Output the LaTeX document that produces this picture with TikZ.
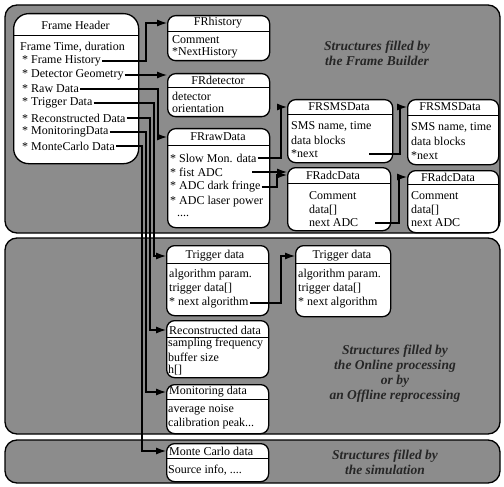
\documentclass[tikz,border=0pt]{standalone}
\usepackage{fontspec}
\setmainfont{Liberation Serif}
\usetikzlibrary{arrows.meta}

\begin{document}
\begin{tikzpicture}[x=1pt,y=-1pt,
  band/.style={draw=black, line width=1.3pt, fill=black!45, rounded corners=12pt},
  box/.style={draw=black, line width=1.3pt, fill=white, rounded corners=8pt, anchor=north west},
  hbox/.style={box, rounded corners=15pt},
  sep/.style={line width=1pt},
  item/.style={anchor=west, inner sep=1pt},
  arr/.style={-{Latex[length=10pt,width=7pt]}, line width=1.1pt},
  note/.style={align=center, text=black!85, font=\fontsize{13.5}{15}\selectfont\bfseries\itshape}]
\tikzstyle{every node}+=[inner sep=0pt, font=\fontsize{12}{14}\selectfont]
\useasboundingbox (0,0) rectangle (504,487);
% the three bands
\path[band] (5,5) rectangle (500,233);
\path[band] (5,238) rectangle (500,434);
\path[band] (5,440) rectangle (500,483);
\node[note] (fbNote) at (377,53) {Structures filled by\\the Frame Builder};
\node[note] (olNote) at (395,374) {Structures filled by\\the Online processing\\or by\\an Offline reprocessing};
\node[note] (smNote) at (385,462) {Structures filled by\\the simulation};
% frame header
\node[hbox, minimum width=125pt, minimum height=150pt] (hdr) at (13,13) {};
\node (hdrT) at (75.5,25) {Frame Header};
\draw[sep] (13,36) -- (138,36);
\node[item] (fhTime) at (19,47) {Frame Time, duration};
\node[item] (fhHist) at (21,61) {* Frame History};
\node[item] (fhDet) at (21,75) {* Detector Geometry};
\node[item] (fhRaw) at (21,89) {* Raw Data};
\node[item] (fhTrig) at (21,103) {* Trigger Data};
\node[item] (fhReco) at (21,118) {* Reconstructed Data};
\node[item] (fhMon) at (21,132) {* MonitoringData};
\node[item] (fhMC) at (21,146) {* MonteCarlo Data};
% FRhistory
\node[box, minimum width=102pt, minimum height=45pt] (hist) at (167,15) {};
\node (histT) at (218,23) {FRhistory};
\draw[sep] (167,32) -- (269,32);
\node[item] (histC) at (171,40) {Comment};
\node[item] (histN) at (171,53) {*NextHistory};
% FRdetector
\node[box, minimum width=102pt, minimum height=43pt] (det) at (167,73) {};
\node (detT) at (218,80) {FRdetector};
\draw[sep] (167,88) -- (269,88);
\node[item] (detD) at (171,96) {detector};
\node[item] (detO) at (171,109) {orientation};
% FRrawData
\node[box, minimum width=102pt, minimum height=99pt] (raw) at (167,128) {};
\node (rawT) at (218,137) {FRrawData};
\draw[sep] (167,145) -- (269,145);
\node[item] (slow) at (169,158) {* Slow Mon. data};
\node[item] (fist) at (169,172) {* fist ADC};
\node[item] (fringe) at (169,187) {* ADC dark fringe};
\node[item] (laser) at (169,202) {* ADC laser power};
\node[item] (rawMore) at (176,216) {....};
% FRSMSData
\node[box, minimum width=105pt, minimum height=63pt] (sms1) at (287,99) {};
\node (sms1T) at (339,107) {FRSMSData};
\draw[sep] (287,115) -- (392,115);
\node[item] (sms1A) at (290,126) {SMS name, time};
\node[item] (sms1B) at (290,140) {data blocks};
\node[item] (sms1N) at (290,154) {*next};
\node[box, minimum width=91pt, minimum height=65pt] (sms2) at (407,99) {};
\node (sms2T) at (450,107) {FRSMSData};
\draw[sep] (407,116) -- (498,116);
\node[item] (sms2A) at (410,127) {SMS name, time};
\node[item] (sms2B) at (410,141) {data blocks};
\node[item] (sms2N) at (410,156) {*next};
% FRadcData
\node[box, minimum width=103pt, minimum height=63pt] (adc1) at (287,167) {};
\node (adc1T) at (333,175) {FRadcData};
\draw[sep] (287,183) -- (390,183);
\node[item] (adc1C) at (308,196) {Comment};
\node[item] (adc1D) at (308,210) {data[]};
\node[item] (adc1N) at (308,223) {next ADC};
\node[box, minimum width=91pt, minimum height=62pt] (adc2) at (407,170) {};
\node (adc2T) at (448,177) {FRadcData};
\draw[sep] (407,184) -- (498,184);
\node[item] (adc2C) at (410,196) {Comment};
\node[item] (adc2D) at (410,210) {data[]};
\node[item] (adc2N) at (410,223) {next ADC};
% trigger
\node[box, minimum width=102pt, minimum height=70pt] (trg1) at (166,245) {};
\node (trg1T) at (215,256) {Trigger data};
\draw[sep] (166,263) -- (268,263);
\node[item] (trg1A) at (168,275) {algorithm param.};
\node[item] (trg1B) at (168,289) {trigger data[]};
\node[item] (trg1N) at (168,303) {* next algorithm};
\node[box, minimum width=95pt, minimum height=71pt] (trg2) at (295,245) {};
\node (trg2T) at (342,256) {Trigger data};
\draw[sep] (295,263) -- (390,263);
\node[item] (trg2A) at (297,275) {algorithm param.};
\node[item] (trg2B) at (297,289) {trigger data[]};
\node[item] (trg2N) at (297,303) {* next algorithm};
% reconstructed, monitoring, monte carlo
\node[box, minimum width=102pt, minimum height=57pt] (reco) at (166,320) {};
\node[item] (recoT) at (168,330) {Reconstructed data};
\draw[sep] (166,337) -- (268,337);
\node[item] (recoA) at (167,344) {sampling frequency};
\node[item] (recoB) at (167,357) {buffer size};
\node[item] (recoC) at (167,370) {h[]};
\node[box, minimum width=102pt, minimum height=49pt] (mon) at (166,384) {};
\node[item] (monT) at (168,392) {Monitoring data};
\draw[sep] (166,399) -- (268,399);
\node[item] (monA) at (167,410) {average noise};
\node[item] (monB) at (167,424) {calibration peak...};
\node[box, minimum width=102pt, minimum height=38pt] (mc) at (166,443) {};
\node[item] (mcT) at (168,451) {Monte Carlo data};
\draw[sep] (166,458) -- (268,458);
\node[item] (mcA) at (167,470) {Source info, ....};
% links from the frame header
\draw[arr] (fhHist.east) -| (146,23) -- (hist.west |- histT);
\draw[arr] (fhDet.east) -- (det.west |- fhDet);
\draw[arr] (fhRaw.east) -| (158,137) -- (raw.west |- rawT);
\draw[arr] (fhTrig.east) -| (154,256) -- (trg1.west |- trg1T);
\draw[arr] (fhReco.east) -| (150,330) -- (reco.west |- recoT);
\draw[arr] (fhMon.east) -| (146,392) -- (mon.west |- monT);
\draw[arr] (fhMC.east) -| (142,451) -- (mc.west |- mcT);
% links between structures
\draw[arr] (slow.east) -| (281,107) -- (sms1.west |- sms1T);
\draw[arr, shorten <=28pt] (fist.east) -- (adc1.west |- fist);
\draw[arr] (fringe.east) -| (277,175) -- (adc1.west |- adc1T);
\draw[arr, shorten <=50pt] (sms1N.east) -| (400,107) -- (sms2.west |- sms2T);
\draw[arr, shorten <=16pt] (adc1N.east) -| (399,177) -- (adc2.west |- adc2T);
\draw[arr] (trg1N.east) -| (281,256) -- (trg2.west |- trg2T);
\end{tikzpicture}
\end{document}
